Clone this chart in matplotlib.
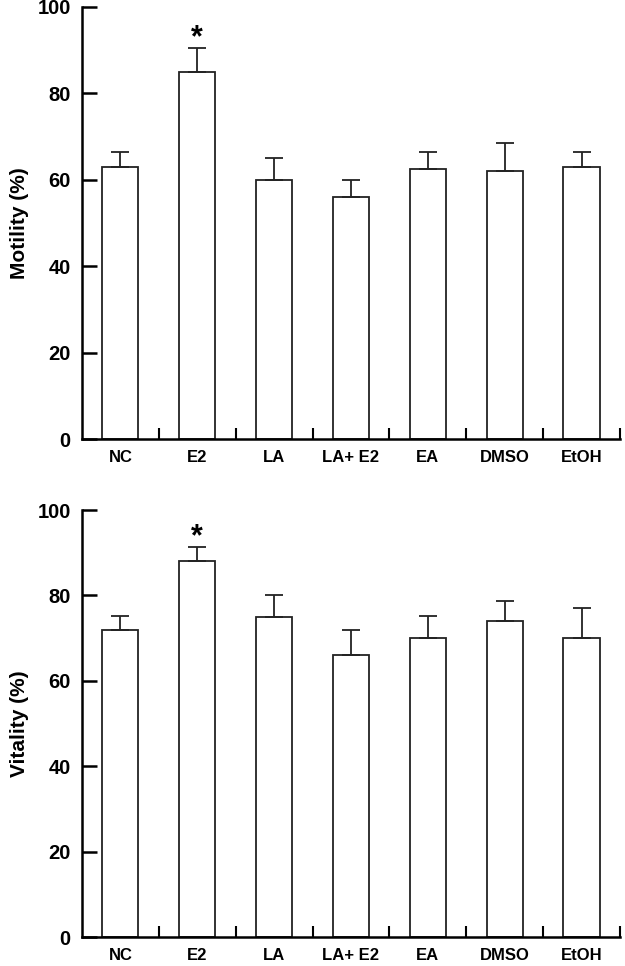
import numpy as np
import matplotlib
matplotlib.use('Agg')
import matplotlib.pyplot as plt

plt.rcParams['font.family'] = ['Liberation Sans', 'DejaVu Sans']
plt.rcParams['font.weight'] = 'bold'

categories = ['NC', 'E2', 'LA', 'LA+ E2', 'EA', 'DMSO', 'EtOH']
motility = [63, 85, 60, 56, 62.5, 62, 63]
motility_err = [3.5, 5.5, 5, 4, 4, 6.5, 3.5]
vitality = [72, 88, 75, 66, 70, 74, 70]
vitality_err = [3.3, 3.4, 5, 6, 5.3, 4.7, 7.1]
star_index = 1

fig = plt.figure(figsize=(6.25, 9.66), dpi=100)
ax1 = fig.add_axes([0.131, 0.5455, 0.861, 0.4473])
ax2 = fig.add_axes([0.131, 0.0300, 0.861, 0.4420])


def panel(ax, vals, errs, ylabel):
    x = np.arange(len(categories))
    ax.bar(x, vals, width=0.47, color='white', edgecolor='#222222', linewidth=1.3, zorder=2)
    ax.errorbar(x, vals, yerr=[np.zeros(len(vals)), errs], fmt='none',
                ecolor='#222222', elinewidth=1.3, capsize=6.5, capthick=1.3, zorder=3)
    ax.text(star_index, vals[star_index] + errs[star_index] - 1.2, '*',
            ha='center', va='bottom', fontsize=22, fontweight='bold')
    ax.set_xlim(-0.5, len(categories) - 0.5)
    ax.set_ylim(0, 100)
    ax.set_yticks([0, 20, 40, 60, 80, 100])
    ax.set_xticks(np.arange(len(categories)) + 0.5)
    ax.set_xticklabels([])
    ax.set_xticks(x, minor=True)
    ax.set_xticklabels(categories, minor=True)
    ax.tick_params(axis='x', which='major', direction='in', length=8, width=1.5)
    ax.tick_params(axis='x', which='minor', length=0, pad=8, labelsize=12)
    ax.tick_params(axis='y', direction='in', length=11, width=1.8, labelsize=14.5, pad=8)
    for lbl in ax.get_xticklabels(minor=True) + ax.get_yticklabels():
        lbl.set_fontweight('bold')
    ax.spines['top'].set_visible(False)
    ax.spines['right'].set_visible(False)
    ax.spines['left'].set_linewidth(1.8)
    ax.spines['bottom'].set_linewidth(1.8)
    ax.set_ylabel(ylabel, fontsize=15, fontweight='bold', labelpad=6)


panel(ax1, motility, motility_err, 'Motility (%)')
panel(ax2, vitality, vitality_err, 'Vitality (%)')

fig.savefig('out.png', dpi=100)
